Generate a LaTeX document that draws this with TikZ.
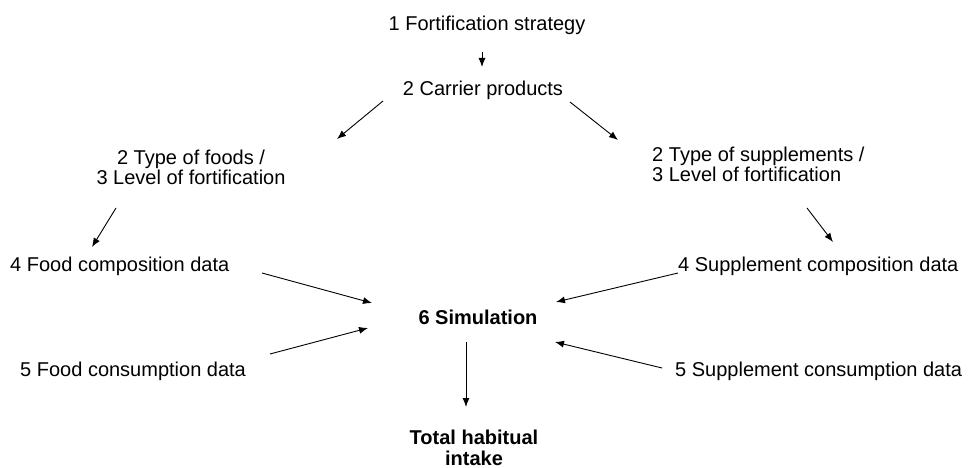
\documentclass[tikz,border=0pt]{standalone}
\usepackage{fontspec}
\setmainfont{Liberation Sans}
\usetikzlibrary{arrows.meta,calc}
\begin{document}
\begin{tikzpicture}[x=1pt,y=-1pt,
  lbl/.style={inner sep=0pt,font=\fontsize{20}{20.5}\selectfont,text height=14pt,text depth=4pt},
  blbl/.style={lbl,font=\fontsize{20}{20.5}\selectfont\bfseries},
  arr/.style={-{Latex[length=9pt,width=7pt]},line width=0.9pt}]
\useasboundingbox (0,0) rectangle (972,468);
\node[lbl] (n1) at (487,26) {1 Fortification strategy};
\node[lbl] (n2) at (483,91) {2 Carrier products};
\node[lbl,align=center] (nf) at (191,180) {2 Type of foods /\\3 Level of fortification};
\node[lbl,align=left,anchor=west] (ns) at (652,177) {2 Type of supplements /\\3 Level of fortification};
\node[lbl,anchor=west] (nfc) at (10,266) {4 Food composition data};
\node[lbl,anchor=west] (nsc) at (678,266) {4 Supplement composition data};
\node[blbl] (sim) at (478,319) {6 Simulation};
\node[lbl,anchor=west] (nfk) at (20,371) {5 Food consumption data};
\node[lbl,anchor=west] (nsk) at (675,371) {5 Supplement consumption data};
\node[blbl,align=center] (tot) at (474,460) {Total habitual\\intake};
\draw[arr] ($(n1)+(-5,26)$) -- ($(n2)+(-1,-24)$);
\draw[arr] ($(n2)+(-100,10)$) -- ($(nf)+(146,-41)$);
\draw[arr] ($(n2)+(87,11)$) -- ($(ns.west)+(-34,-37)$);
\draw[arr] ($(nf)+(-75,28)$) -- ($(nfc.west)+(82,-19)$);
\draw[arr] ($(ns.west)+(155,31)$) -- ($(nsc.west)+(155,-24)$);
\draw[arr] ($(nfc.west)+(252,7)$) -- ($(sim)+(-106,-16)$);
\draw[arr] ($(nsc.west)+(0,7)$) -- ($(sim)+(78,-17)$);
\draw[arr] ($(nfk.west)+(250,-17)$) -- ($(sim)+(-110,9)$);
\draw[arr] ($(nsk.west)+(-13,-3)$) -- ($(sim)+(77,23)$);
\draw[arr] ($(sim)+(-12,23)$) -- ($(tot)+(-8,-53)$);
\end{tikzpicture}
\end{document}
